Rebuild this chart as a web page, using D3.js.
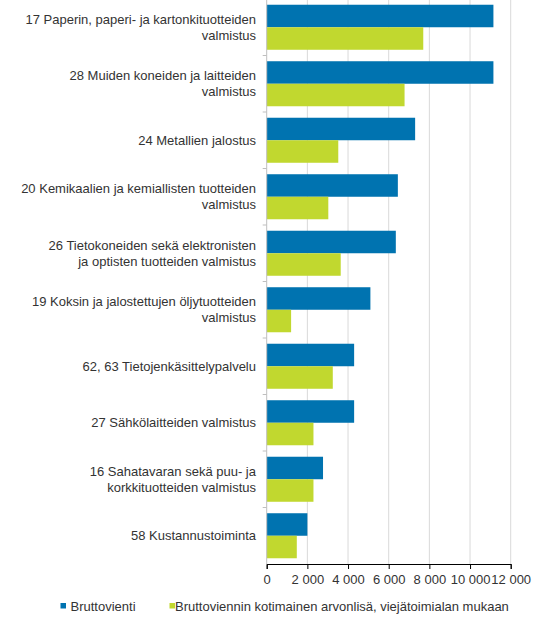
<!DOCTYPE html>
<html><head><meta charset="utf-8">
<script src="https://cdn.jsdelivr.net/npm/d3@7"></script>
<style>body{margin:0;background:#fff}svg{display:block}text{font-family:"Liberation Sans",Arial,sans-serif}</style>
</head><body>
<script>
const categories = [
  ["17 Paperin, paperi- ja kartonkituotteiden","valmistus"],
  ["28 Muiden koneiden ja laitteiden","valmistus"],
  ["24 Metallien jalostus"],
  ["20 Kemikaalien ja kemiallisten tuotteiden","valmistus"],
  ["26 Tietokoneiden sekä elektronisten","ja optisten tuotteiden valmistus"],
  ["19 Koksin ja jalostettujen öljytuotteiden","valmistus"],
  ["62, 63 Tietojenkäsittelypalvelu"],
  ["27 Sähkölaitteiden valmistus"],
  ["16 Sahatavaran sekä puu- ja","korkkituotteiden valmistus"],
  ["58 Kustannustoiminta"]
];
const bruttovienti = [11150, 11150, 7300, 6450, 6350, 5100, 4300, 4300, 2770, 2000];
const arvonlisa = [7700, 6780, 3520, 3030, 3640, 1200, 3250, 2300, 2300, 1480];
const seriesNames = ["Bruttovienti", "Bruttoviennin kotimainen arvonlisä, viejätoimialan mukaan"];
const xTicks = [0, 2000, 4000, 6000, 8000, 10000, 12000];
const colors = ["#0073b0", "#c1d82f"];

const W = 539, H = 622;
const FS = 13;
const AXY = 564;
const svg = d3.select("body").append("svg").attr("width", W).attr("height", H);
const x = d3.scaleLinear().domain([0, 12000]).range([266.7, 510.7]);
const idx = categories.map((d,i)=>i);
const y = d3.scaleBand().domain(idx).range([-1, AXY]).paddingInner(0).paddingOuter(0);
const inner = d3.scaleBand().domain([0,1]).range([0, y.bandwidth()]).paddingOuter(0.255).paddingInner(0);

// gridlines
svg.append("g").selectAll("line").data(xTicks.slice(1)).join("line")
  .attr("x1", d=>x(d)).attr("x2", d=>x(d)).attr("y1", 0).attr("y2", AXY)
  .attr("stroke", "#d9d9d9").attr("stroke-width", 1);

// bars
const groups = svg.append("g").selectAll("g").data(idx).join("g")
  .attr("transform", i=>`translate(0,${y(i)})`);
groups.append("rect").attr("x", x(0)).attr("y", inner(0))
  .attr("width", i=>x(bruttovienti[i])-x(0)).attr("height", inner.bandwidth())
  .attr("fill", colors[0]);
groups.append("rect").attr("x", x(0)).attr("y", inner(1))
  .attr("width", i=>x(arvonlisa[i])-x(0)).attr("height", inner.bandwidth())
  .attr("fill", colors[1]);

// y axis line & ticks
svg.append("line").attr("x1", x(0)).attr("x2", x(0)).attr("y1", 0).attr("y2", AXY)
  .attr("stroke", "#bfbfbf");
svg.append("g").selectAll("line").data(idx.slice(1)).join("line")
  .attr("x1", x(0)-4).attr("x2", x(0)).attr("y1", i=>y(i)).attr("y2", i=>y(i))
  .attr("stroke", "#bfbfbf");

// category labels
const lab = svg.append("g").selectAll("text").data(idx).join("text")
  .attr("text-anchor", "end").attr("font-size", FS).attr("fill", "#333")
  .attr("transform", i=>`translate(256,${y(i)+y.bandwidth()/2})`);
lab.each(function(i){
  const lines = categories[i];
  const n = lines.length;
  d3.select(this).selectAll("tspan").data(lines).join("tspan")
    .attr("x", 0).attr("y", (d,k)=>(k-(n-1)/2)*16 + 4.5).text(d=>d);
});

// x axis
const xAxis = d3.axisBottom(x).tickValues(xTicks).tickSize(5)
  .tickFormat(d=>d3.format(",")(d).replace(/,/g, " "));
const gx = svg.append("g").attr("transform", `translate(0,${AXY})`).call(xAxis);
gx.select(".domain").attr("stroke", "#000");
gx.selectAll(".tick line").attr("stroke", "#000");
gx.selectAll(".tick text").attr("font-size", FS).attr("fill", "#333").attr("dy", "0.9em")
  .attr("font-family", "Liberation Sans, Arial, sans-serif");

// legend
const legX = [60.5, 169.5];
const legT = [70.5, 175];
const leg = svg.append("g").selectAll("g").data(seriesNames).join("g");
leg.append("rect").attr("x", (d,i)=>legX[i]).attr("y", 603).attr("width", 5.5).attr("height", 5.5)
  .attr("fill", (d,i)=>colors[i]);
leg.append("text").attr("x", (d,i)=>legT[i]).attr("y", 610.5).attr("font-size", FS).attr("fill", "#333").text(d=>d);
</script>
</body></html>
